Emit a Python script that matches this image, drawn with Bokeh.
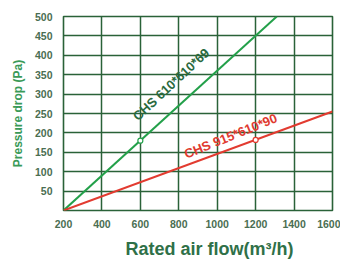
from bokeh.plotting import figure
from bokeh.models import Range1d, FixedTicker, Label, Title
from bokeh.embed import file_html
from bokeh.resources import INLINE

# data
green_x = [200, 1310]
green_y = [0, 500]
green_pt_x = [600]
green_pt_y = [180]
red_x = [200, 1600]
red_y = [0, 255]
red_pt_x = [1200]
red_pt_y = [182]
x_ticks = [200, 400, 600, 800, 1000, 1200, 1400, 1600]
y_ticks = [50, 100, 150, 200, 250, 300, 350, 400, 450, 500]

GRID = "#2a6238"
p = figure(width=340, height=264, output_backend="svg", toolbar_location=None,
           x_range=Range1d(200, 1600), y_range=Range1d(0, 500),
           min_border_left=63, min_border_right=8, min_border_top=16, min_border_bottom=51)
p.background_fill_color = "white"
p.outline_line_color = GRID
p.outline_line_width = 1.6

for ax in (p.xaxis, p.yaxis):
    ax.axis_line_color = None
    ax.major_tick_line_color = None
    ax.minor_tick_line_color = None
    ax.major_label_text_font = "Liberation Sans"
    ax.major_label_text_font_style = "bold"
    ax.major_label_text_font_size = "10.5px"
    ax.major_label_text_color = "#4a6e52"
    ax.axis_label_text_font = "Liberation Sans"
    ax.axis_label_text_font_style = "bold"

p.xaxis.ticker = FixedTicker(ticks=x_ticks)
p.yaxis.ticker = FixedTicker(ticks=y_ticks)
p.xaxis.major_label_standoff = 3
p.yaxis.major_label_standoff = 5

p.yaxis.axis_label = "Pressure drop (Pa)"
p.yaxis.axis_label_text_font_size = "12px"
p.yaxis.axis_label_text_color = "#3a9a58"
p.yaxis.axis_label_standoff = 7

p.xgrid.ticker = FixedTicker(ticks=x_ticks)
p.ygrid.ticker = FixedTicker(ticks=y_ticks)
for g in (p.xgrid, p.ygrid):
    g.grid_line_color = GRID
    g.grid_line_width = 1.5
    g.grid_line_alpha = 1.0

p.line(green_x, green_y, line_color="#23a04a", line_width=2)
p.line(red_x, red_y, line_color="#e23b30", line_width=2)
p.scatter(green_pt_x, green_pt_y, marker="circle", size=5, fill_color="white",
          line_color="#23a04a", line_width=1.2)
p.scatter(red_pt_x, red_pt_y, marker="circle", size=5, fill_color="white",
          line_color="#e23b30", line_width=1.2)

p.add_layout(Label(x=760, y=325, text="CHS 610*610*69", angle=43, angle_units="deg",
                   text_font="Liberation Sans", text_font_style="bold",
                   text_font_size="13px", text_color="#2a6a3e",
                   text_align="center", text_baseline="middle"))
p.add_layout(Label(x=1070, y=192, text="CHS 915*610*90", angle=22, angle_units="deg",
                   text_font="Liberation Sans", text_font_style="bold",
                   text_font_size="13px", text_color="#e03a30",
                   text_align="center", text_baseline="middle"))

# x-axis title as a below title, shifted right like the reference
p.add_layout(Title(text="Rated air flow(m³/h)", align="left", offset=62,
                   text_font="Liberation Sans", text_font_style="bold",
                   text_font_size="18px", text_color="#2f7048", standoff=12), "below")

open("out.html", "w").write(file_html(p, INLINE))
